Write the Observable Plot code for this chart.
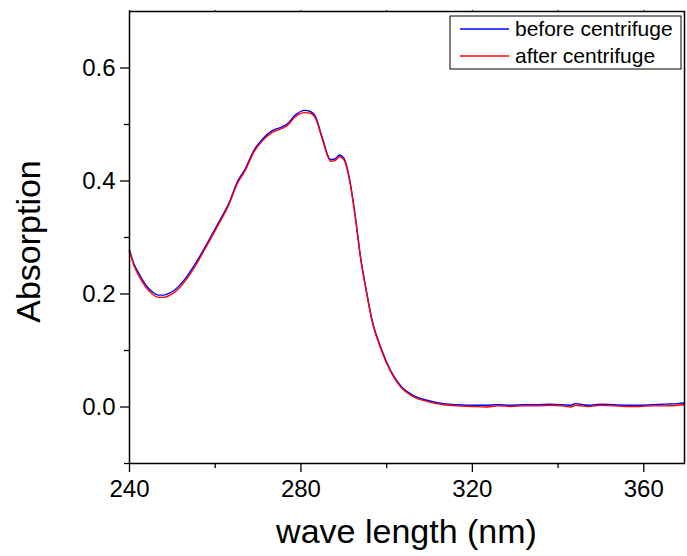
<!DOCTYPE html>
<html><head><meta charset="utf-8">
<script src="https://cdn.jsdelivr.net/npm/d3@7"></script>
<script src="https://cdn.jsdelivr.net/npm/@observablehq/plot@0.6"></script>
<style>body{margin:0;background:#fff;} #chart{width:687px;height:556px;}</style>
</head><body><div id="chart"></div>
<script>
const wavelength = [240, 241, 242.2, 243.7, 245.3, 246.8, 248, 249.2, 250.7, 253.1, 255.4, 257.7, 260.9, 263.2, 265.2, 267.1, 269, 271, 273.3, 275.6, 276.8, 278.7, 280.9, 282.2, 283.4, 285, 286.9, 287.9, 289, 290, 291.4, 292.8, 293.9, 295.1, 296.6, 298.6, 300.9, 303.2, 306.3, 309.4, 313.3, 316.5,
  320, 323, 326, 329, 332, 335, 338, 341, 343, 344, 347, 350, 353, 356, 359, 362, 365, 368, 369.5];
const before = [0.278, 0.254, 0.236, 0.217, 0.204, 0.198, 0.198, 0.201, 0.208, 0.228, 0.254, 0.284, 0.328, 0.361, 0.399, 0.423, 0.454, 0.474, 0.489, 0.496, 0.501, 0.517, 0.525, 0.523, 0.514, 0.476, 0.438, 0.439, 0.446, 0.441, 0.401, 0.331, 0.266, 0.213, 0.154, 0.106, 0.065, 0.038, 0.020, 0.012, 0.006, 0.004,
  0.003, 0.003, 0.004, 0.003, 0.004, 0.004, 0.005, 0.004, 0.003, 0.006, 0.003, 0.005, 0.004, 0.003, 0.003, 0.004, 0.005, 0.006, 0.007];
const after = [0.276, 0.251, 0.232, 0.213, 0.200, 0.194, 0.194, 0.197, 0.204, 0.224, 0.250, 0.281, 0.325, 0.358, 0.396, 0.420, 0.451, 0.471, 0.486, 0.493, 0.498, 0.514, 0.521, 0.520, 0.511, 0.474, 0.435, 0.436, 0.443, 0.438, 0.399, 0.329, 0.264, 0.211, 0.152, 0.104, 0.063, 0.036, 0.018, 0.010, 0.004, 0.002,
  0.001, 0.000, 0.002, 0.001, 0.002, 0.002, 0.003, 0.002, 0.000, 0.003, 0.001, 0.003, 0.002, 0.001, 0.001, 0.002, 0.002, 0.003, 0.004];
const seriesNames = ["before centrifuge", "after centrifuge"];
const seriesColors = ["#0000ff", "#ff0000"];
const xMajorTicks = [240, 280, 320, 360];
const xMinorTicks = [260, 300, 340];
const yMajorTicks = [0, 0.2, 0.4, 0.6];
const yMinorTicks = [-0.1, 0.1, 0.3, 0.5];
const xTitle = "wave length (nm)";
const yTitle = "Absorption";

const rows = [];
[before, after].forEach((vals, k) => {
  wavelength.forEach((w, i) => rows.push({w, v: vals[i], s: seriesNames[k]}));
});

const blank = () => "";
const chart = Plot.plot({
  width: 687, height: 556,
  marginLeft: 129, marginRight: 3, marginTop: 11, marginBottom: 93,
  style: {fontFamily: "'Liberation Sans', Arial, sans-serif", background: "white", color: "black"},
  x: {domain: [240, 369.5]},
  y: {domain: [-0.1, 0.7]},
  color: {domain: seriesNames, range: seriesColors},
  marks: [
    Plot.axisX({ticks: xMajorTicks, tickSize: 9, tickPadding: 7, fontSize: 24, label: null, strokeWidth: 1.3}),
    Plot.axisX({ticks: xMinorTicks, tickSize: 5, tickFormat: blank, label: null, strokeWidth: 1.3}),
    Plot.axisX({anchor: "top", ticks: [...xMajorTicks, ...xMinorTicks], tickSize: 2, tickFormat: blank, label: null}),
    Plot.axisY({ticks: yMajorTicks, tickSize: 9, tickPadding: 5, fontSize: 24, tickFormat: d3.format(".1f"), label: null, strokeWidth: 1.3}),
    Plot.axisY({ticks: yMinorTicks, tickSize: 5, tickFormat: blank, label: null, strokeWidth: 1.3}),
    Plot.line(rows, {x: "w", y: "v", z: "s", stroke: "s", strokeWidth: 1.4, curve: "monotone-x"}),
    Plot.frame({stroke: "black", strokeWidth: 1.5})
  ]
});
document.getElementById("chart").appendChild(chart);

const svg = d3.select(chart);
const ff = "'Liberation Sans', Arial, sans-serif";
svg.append("text").attr("x", 406.5).attr("y", 543).attr("text-anchor", "middle")
  .attr("font-size", 34).attr("font-family", ff).attr("fill", "black").text(xTitle);
svg.append("text").attr("transform", "translate(40,241.5) rotate(-90)").attr("text-anchor", "middle")
  .attr("font-size", 34).attr("font-family", ff).attr("fill", "black").text(yTitle);

const lg = svg.append("g");
lg.append("rect").attr("x", 450).attr("y", 16).attr("width", 231).attr("height", 53)
  .attr("fill", "white").attr("stroke", "black").attr("stroke-width", 1);
seriesNames.forEach((name, i) => {
  const cy = 29 + i * 27;
  lg.append("line").attr("x1", 460).attr("x2", 509).attr("y1", cy).attr("y2", cy)
    .attr("stroke", seriesColors[i]).attr("stroke-width", 1.4);
  lg.append("text").attr("x", 515).attr("y", cy + 7).attr("font-size", 21)
    .attr("text-anchor", "start").attr("font-family", ff).attr("fill", "black").text(name);
});
</script>
</body></html>
